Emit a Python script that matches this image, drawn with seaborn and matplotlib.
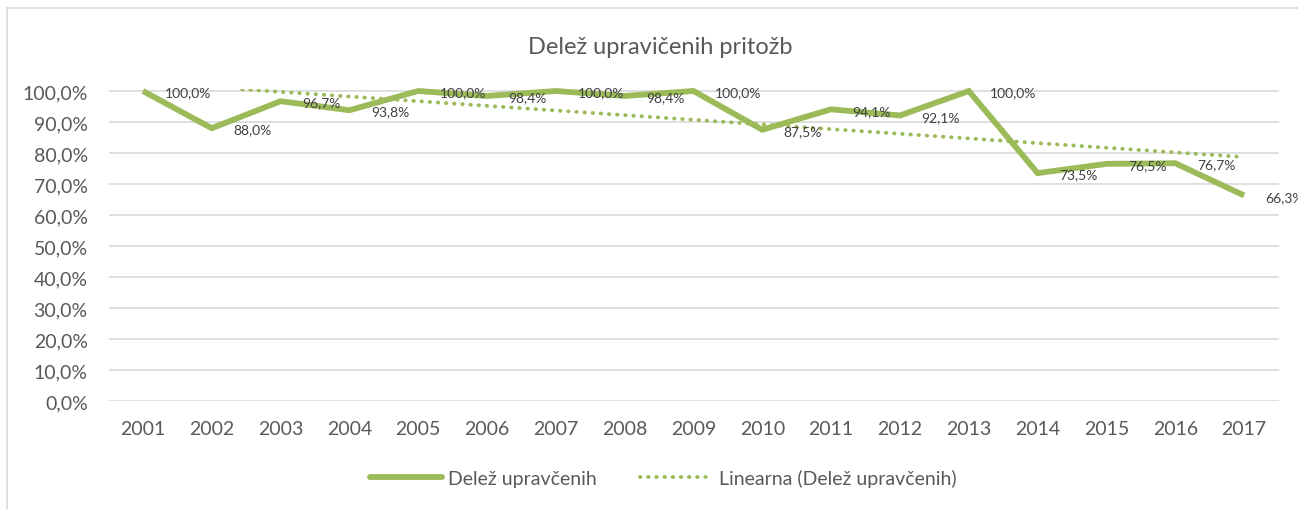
import numpy as np
import pandas as pd
import matplotlib
matplotlib.use("Agg")
import matplotlib.pyplot as plt
import seaborn as sns
from matplotlib.ticker import FuncFormatter
from matplotlib.lines import Line2D

# ---- data ----
years = ["2001", "2002", "2003", "2004", "2005", "2006", "2007", "2008", "2009",
         "2010", "2011", "2012", "2013", "2014", "2015", "2016", "2017"]
share = [100.0, 88.0, 96.7, 93.8, 100.0, 98.4, 100.0, 98.4, 100.0,
         87.5, 94.1, 92.1, 100.0, 73.5, 76.5, 76.7, 66.3]
title = "Delež upravičenih pritožb"
series_label = "Delež upravčenih"
trend_label = "Linearna (Delež upravčenih)"
yticks = [0, 10, 20, 30, 40, 50, 60, 70, 80, 90, 100]

GREEN = "#9BBB59"
TXT = "#595959"
GRID = "#D9D9D9"

sns.set_theme(style="white")
plt.rcParams["font.family"] = ["Lato", "DejaVu Sans"]

W, H = 1298, 510
fig = plt.figure(figsize=(W / 100, H / 100), dpi=100)

ymax = 100.6
left_px, right_px = 108.5, 1278.5
bottom_px = 402.0
top_px = bottom_px - 310.0 * ymax / 100.0
ax = fig.add_axes([left_px / W, (H - bottom_px) / H,
                   (right_px - left_px) / W, (bottom_px - top_px) / H])

df = pd.DataFrame({"year": years, "share": share})
df["pos"] = np.arange(len(years))

# trend line (linear fit)
coef = np.polyfit(df["pos"], df["share"], 1)
xt = np.linspace(0, len(years) - 1, 400)
yt = np.polyval(coef, xt)
ax.plot(xt[yt <= ymax], yt[yt <= ymax], color=GREEN, lw=2.8,
        linestyle=(0, (0.1, 2.0)), dash_capstyle="round", zorder=2)

sns.lineplot(data=df, x="pos", y="share", ax=ax, color=GREEN, lw=4.2,
             solid_joinstyle="miter", solid_capstyle="butt", zorder=3,
             clip_on=False, legend=False)

for p, v in zip(df["pos"], df["share"]):
    ax.annotate(f"{v:.1f}%".replace(".", ","), (p, v), xytext=(15.5, -1),
                textcoords="offset points", ha="left", va="center",
                fontsize=10, color="#404040", zorder=4, annotation_clip=False)

ax.set_xlim(-0.5, len(years) - 0.5)
ax.set_ylim(0, ymax)
ax.set_xticks(df["pos"])
ax.set_xticklabels(years)
ax.set_yticks(yticks)
ax.yaxis.set_major_formatter(FuncFormatter(lambda v, _: f"{v:.1f}%".replace(".", ",")))
ax.tick_params(axis="both", length=0, labelsize=14, colors=TXT)
ax.tick_params(axis="x", pad=14)
ax.tick_params(axis="y", pad=15)
ax.grid(axis="y", color=GRID, lw=1.2)
ax.set_axisbelow(True)
for s in ax.spines.values():
    s.set_visible(False)
ax.set_xlabel("")
ax.set_ylabel("")

fig.text(660 / W, 1 - 47 / H, title, ha="center", va="center",
         fontsize=17, color=TXT)

handles = [Line2D([], [], color=GREEN, lw=4.2, solid_capstyle="round"),
           Line2D([], [], color=GREEN, lw=2.8, linestyle=(0, (0.1, 2.0)),
                  dash_capstyle="round")]
fig.legend(handles, [series_label, trend_label], loc="center",
           bbox_to_anchor=(663 / W, 1 - 479 / H), ncol=2, frameon=False,
           fontsize=14, labelcolor=TXT, handlelength=3.7,
           handletextpad=0.35, columnspacing=2.2)

# chart-area border (top and left edges visible)
fig.add_artist(Line2D([7 / W, 7 / W], [0, 1 - 9 / H], transform=fig.transFigure,
                      color=GRID, lw=1.2))
fig.add_artist(Line2D([7 / W, 1], [1 - 9 / H, 1 - 9 / H], transform=fig.transFigure,
                      color=GRID, lw=1.2))

fig.savefig("out.png", dpi=100, facecolor="white")
